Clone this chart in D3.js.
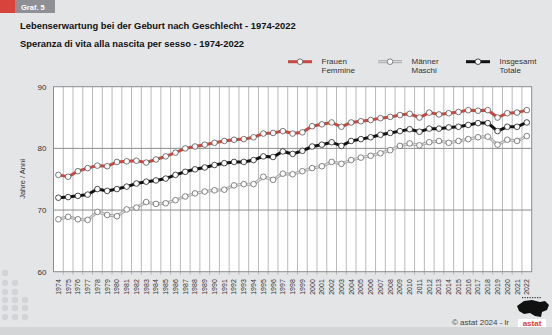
<!DOCTYPE html>
<html><head><meta charset="utf-8">
<script src="https://cdn.jsdelivr.net/npm/d3@7/dist/d3.min.js"></script>
<style>
body{margin:0;background:#e4e5e7;}
svg{display:block;font-family:"Liberation Sans",Arial,sans-serif;}
</style>
</head><body>
<svg id="c" width="552" height="335"></svg>
<script>
const years = ["1974","1975","1976","1977","1978","1979","1980","1981","1982","1983",
"1984","1985","1986","1987","1988","1989","1990","1991","1992","1993",
"1994","1995","1996","1997","1998","1999","2000","2001","2002","2003",
"2004","2005","2006","2007","2008","2009","2010","2011","2012","2013",
"2014","2015","2016","2017","2018","2019","2020","2021","2022"];
const frauen = [75.7,75.4,76.3,76.8,77.2,77.1,77.8,77.9,78.0,77.7,
78.2,78.7,79.3,80.0,80.3,80.6,80.9,81.2,81.4,81.5,
81.8,82.4,82.5,82.8,82.4,82.6,83.6,83.9,84.2,83.5,
84.2,84.4,84.6,84.9,85.1,85.4,85.6,85.0,85.8,85.5,
85.7,85.9,86.2,86.1,86.2,85.0,85.7,85.8,86.2];
const maenner = [68.5,68.9,68.5,68.4,69.7,69.2,69.0,70.1,70.4,71.3,
71.0,71.1,71.6,72.2,72.7,73.0,73.2,73.3,74.0,74.2,
74.2,75.4,74.9,75.9,75.8,76.3,76.8,77.1,77.8,77.5,
78.1,78.5,78.8,79.2,79.7,80.4,80.8,80.5,81.0,81.2,
80.9,81.2,81.5,81.8,81.9,80.6,81.4,81.2,82.0];
const insgesamt = [72.0,72.1,72.3,72.5,73.4,73.1,73.4,73.8,74.3,74.6,
74.8,75.1,75.7,76.2,76.6,76.9,77.3,77.6,77.8,77.8,
78.1,78.7,78.6,79.5,79.1,79.6,80.3,80.6,81.0,80.4,
81.2,81.5,81.8,82.2,82.5,82.8,83.1,82.7,83.2,83.2,
83.4,83.5,83.8,84.1,84.1,82.8,83.5,83.5,84.2];
const yTicks = [60,70,80,90];
const seriesNames = [["Frauen","Femmine"],["Männer","Maschi"],["Insgesamt","Totale"]];
const titleDe = "Lebenserwartung bei der Geburt nach Geschlecht - 1974-2022";
const titleIt = "Speranza di vita alla nascita per sesso - 1974-2022";

const svg = d3.select("#c");
const W = 552, H = 335;
svg.append("rect").attr("width",W).attr("height",H).attr("fill","#e4e5e7");
svg.append("rect").attr("x",0).attr("y",327).attr("width",W).attr("height",8).attr("fill","#d4d5d7");

const dotRows = [[273,[5]],[283,[5,15]],[292,[5,15]],[300,[5,15,25]],[308,[5,15,25]],[317,[5,15,25]]];
dotRows.forEach(([yy,xs])=>xs.forEach(xx=>svg.append("circle").attr("cx",xx).attr("cy",yy).attr("r",3.2).attr("fill","#d3d4d7")));

svg.append("rect").attr("x",0).attr("y",0).attr("width",15).attr("height",13).attr("fill","#d8433b");
svg.append("rect").attr("x",15).attr("y",0).attr("width",40).attr("height",13).attr("fill","#8e9096");
svg.append("text").attr("x",21).attr("y",9.5).attr("fill","#fff").attr("font-size","7.5px").attr("font-weight","bold").text("Graf. 5");

svg.append("text").attr("x",20).attr("y",29).attr("font-size","9.4px").attr("font-weight","bold").attr("fill","#111").text(titleDe);
svg.append("text").attr("x",20).attr("y",46.5).attr("font-size","9.4px").attr("font-weight","bold").attr("fill","#111").text(titleIt);

const x = d3.scaleBand().domain(years).range([53.5,531.7]).padding(0);
const y = d3.scaleLinear().domain([60,90]).range([271.7,86.7]);

const pl = 53.5, pr = 531.7, pt = y(90), pb = y(60);
svg.append("rect").attr("x",pl).attr("y",pt).attr("width",pr-pl).attr("height",pb-pt).attr("fill","#fff");

const g = svg.append("g");
years.slice(1).forEach(yr=>{
  g.append("line").attr("x1",x(yr)).attr("x2",x(yr)).attr("y1",pt).attr("y2",pb+3)
   .attr("stroke","#b9b9b9").attr("stroke-width",1);
});
[70,80].forEach(v=>{
  g.append("line").attr("x1",pl).attr("x2",pr).attr("y1",y(v)).attr("y2",y(v)).attr("stroke","#8c8c8c").attr("stroke-width",1);
});
svg.append("rect").attr("x",pl).attr("y",pt).attr("width",pr-pl).attr("height",pb-pt)
  .attr("fill","none").attr("stroke","#8c8c8c").attr("stroke-width",1);

const yAxis = d3.axisLeft(y).tickValues(yTicks).tickSize(0).tickPadding(7);
const ya = svg.append("g").attr("transform",`translate(${pl},0)`).call(yAxis);
ya.select(".domain").remove();
ya.selectAll("text").attr("font-size","8px").attr("fill","#333").attr("font-family","Liberation Sans, Arial, sans-serif");

svg.append("text").attr("transform","translate(25,179) rotate(-90)").attr("text-anchor","middle")
  .attr("font-size","7.5px").attr("fill","#333").text("Jahre / Anni");

const xAxis = d3.axisBottom(x).tickSize(0).tickPadding(0);
const xa = svg.append("g").attr("transform",`translate(0,${pb})`).call(xAxis);
xa.select(".domain").remove();
xa.selectAll("text").attr("font-size","7px").attr("fill","#333").attr("font-family","Liberation Sans, Arial, sans-serif")
  .attr("text-anchor","end").attr("dy","0.35em").attr("transform","translate(0,7.5) rotate(-90)").attr("x",0).attr("y",0);

const series = [
  {vals:maenner, color:"#a9a9a9", inner:"#dcdcdc", stroke:"#666"},
  {vals:insgesamt, color:"#111111", inner:null, stroke:"#222"},
  {vals:frauen, color:"#c9473f", inner:null, stroke:"#555"}
];
const line = d3.line().x((d,i)=>x(years[i])+x.bandwidth()/2).y(d=>y(d));
series.forEach(s=>{
  svg.append("path").attr("d",line(s.vals)).attr("fill","none").attr("stroke",s.color).attr("stroke-width",3);
  if(s.inner) svg.append("path").attr("d",line(s.vals)).attr("fill","none").attr("stroke",s.inner).attr("stroke-width",1.1);
  svg.append("g").selectAll("circle").data(s.vals).join("circle")
    .attr("cx",(d,i)=>x(years[i])+x.bandwidth()/2).attr("cy",d=>y(d)).attr("r",2.8)
    .attr("fill","#fff").attr("stroke",s.stroke).attr("stroke-width",0.8);
});

const legX = [288, 378, 466];
const legCol = [series[2], series[0], series[1]];
legX.forEach((lx,i)=>{
  const s = legCol[i];
  svg.append("line").attr("x1",lx).attr("x2",lx+24).attr("y1",61.7).attr("y2",61.7).attr("stroke",s.color).attr("stroke-width",3);
  if(s.inner) svg.append("line").attr("x1",lx).attr("x2",lx+24).attr("y1",61.7).attr("y2",61.7).attr("stroke",s.inner).attr("stroke-width",1.1);
  svg.append("circle").attr("cx",lx+12).attr("cy",61.7).attr("r",2.8).attr("fill","#fff").attr("stroke",s.stroke).attr("stroke-width",0.8);
  const t = svg.append("text").attr("x",lx+33.5).attr("y",64).attr("font-size","8px").attr("fill","#333");
  t.append("tspan").attr("x",lx+33.5).text(seriesNames[i][0]);
  t.append("tspan").attr("x",lx+33.5).attr("dy",8.5).text(seriesNames[i][1]);
});

svg.append("text").attr("x",452).attr("y",325).attr("font-size","8px").attr("fill","#444").text("© astat 2024 - lr");
const logo = svg.append("g");
logo.append("path").attr("d","M517,306 L524,301 L532,300 L540,302 L545,301 L549,305 L547,310 L542,312 L541,317 L535,316 L530,313 L524,314 L519,311 Z").attr("fill","#111");
[522,524.5,527,529.5,532,534.5,537,539.5].forEach(px=>logo.append("rect").attr("x",px).attr("y",297).attr("width",1.2).attr("height",1.2).attr("fill","#333"));
logo.append("rect").attr("x",518).attr("y",319).attr("width",28).attr("height",8).attr("fill","#fff");
logo.append("text").attr("x",532).attr("y",326).attr("text-anchor","middle").attr("font-size","8px").attr("font-weight","bold").attr("fill","#d8433b").text("astat");
</script>
</body></html>
